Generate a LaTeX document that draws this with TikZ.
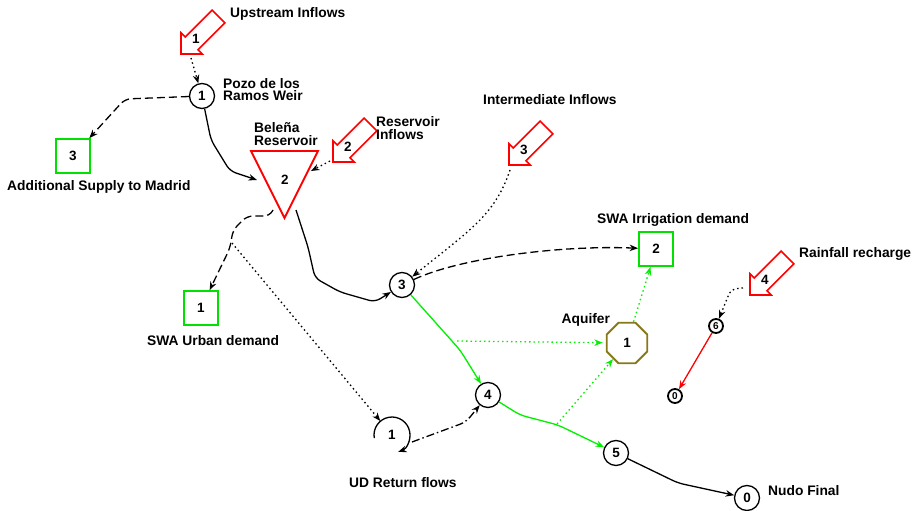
\documentclass[tikz,border=0pt]{standalone}
\usepackage{fontspec}
\setmainfont{Liberation Sans}
\usetikzlibrary{arrows.meta,shapes.geometric,calc}

\definecolor{flowgreen}{RGB}{0,240,0}
\definecolor{boxgreen}{RGB}{0,225,0}
\definecolor{aquiferolive}{RGB}{135,120,25}
\definecolor{inflowred}{RGB}{255,0,0}

\tikzset{
  lbl/.style={font=\fontsize{13.8}{12.6}\selectfont\bfseries, inner sep=0pt, align=left},
  num/.style={font=\fontsize{13.5}{13.5}\selectfont\bfseries},
  junction/.style={circle, draw, line width=1.3pt, minimum size=25pt, inner sep=0pt, num},
  sink/.style={circle, draw, line width=1.8pt, minimum size=14pt, inner sep=0pt,
    font=\fontsize{10}{10}\selectfont\bfseries},
  demand/.style={rectangle, draw=boxgreen, line width=1.8pt, minimum size=34pt, inner sep=0pt, num},
  aquifer/.style={regular polygon, regular polygon sides=8, draw=aquiferolive, line width=1.8pt,
    minimum size=44pt, inner sep=0pt, num},
  inflow/.style={draw=inflowred, line width=1.6pt, line join=miter},
  tipped/.style={-{Stealth[length=8.5pt,width=6.5pt]}},
  conn/.style={line width=1.3pt, tipped, rounded corners=6pt},
  dashedconn/.style={conn, dash pattern=on 8pt off 4pt},
  dottedconn/.style={conn, dash pattern=on 1.5pt off 3pt},
  dashdotconn/.style={conn, dash pattern=on 8pt off 3pt on 1.5pt off 3pt},
  greentip/.style={-{Stealth[length=8.5pt,width=6.5pt,fill=flowgreen]}},
}

% block arrow for an inflow: #1 label node name, #2 tip point, #3 number
\newcommand\inflowarrow[3]{%
  \begin{scope}[shift={#2}, rotate=225]
    \draw[inflow] (0,0) -- (-15,15) -- (-15,9) -- (-53,9) -- (-53,-9) -- (-15,-9) -- (-15,-15) -- cycle;
    \node[num, inner sep=0pt] (#1) at (-21,0) {#3};
  \end{scope}}

\begin{document}
\begin{tikzpicture}[x=1pt,y=-1pt]
\useasboundingbox[fill=white] (0,0) rectangle (914,511);

% junctions and sinks
\node[junction] (n1) at (202,96) {1};
\node[junction] (n3) at (402,285) {3};
\node[junction] (n4) at (488,395) {4};
\node[junction] (n5) at (616,453) {5};
\node[junction] (n0) at (747,498) {0};
\node[sink] (n6) at (716,326) {6};
\node[sink] (s0) at (675,396) {0};

% demands and aquifer
\node[demand] (d3) at (73,156) {3};
\node[demand] (d1) at (201,308) {1};
\node[demand] (d2) at (656,249) {2};
\node[aquifer] (aq) at (627,343) {1};

% reservoir
\draw[draw=red, line width=1.8pt, line join=miter] (251,151) -- (318,151) -- (284.5,218) -- cycle;
\node[num] (res) at (285,180) {2};

% return flow element
\node[num, circle, minimum size=36pt, inner sep=0pt] (ud) at (392,435) {1};
\draw[line width=1.3pt, tipped] ([shift={(190:18pt)}]ud.center) arc[start angle=190, end angle=-70, radius=18pt];

% inflows
\inflowarrow{q1}{(181,54)}{1}
\inflowarrow{q2}{(333,162)}{2}
\inflowarrow{q3}{(509,165)}{3}
\inflowarrow{q4}{(750,295)}{4}

% connector end points on shapes without borders
\coordinate (in1) at (191,58);
\coordinate (in2) at (330,161);
\coordinate (in3) at (510,170);
\coordinate (in4) at (743,288);
\coordinate (resW) at (257,180);
\coordinate (resNE) at (311,171);
\coordinate (resS1) at (273,210);
\coordinate (resS2) at (296,210);
\coordinate (split) at (232,243);
\coordinate (udE) at (412,442);
\coordinate (g1) at (457,341);
\coordinate (g2) at (557,424);

% connectors
\draw[dottedconn] (in1) -- (n1);
\draw[dashedconn] (n1) -- (125,99) -- (d3);
\draw[conn] (n1) -- (211,140) -- (230,171) -- (resW);
\draw[dottedconn] (in2) -- (resNE);
\draw[dashedconn] (resS1) -- (270,216) -- (247,216) -- (233,230) -- (230,248) -- (d1);
\draw[dottedconn] (split) -- (ud);
\draw[conn] (resS2) -- (308,247) -- (315,278) -- (340,292) -- (375,302) -- (n3);
\draw[dottedconn] (in3) .. controls (495,215) and (470,230) .. (n3);
\draw[dashedconn] (n3) .. controls (460,258) and (560,245) .. (d2);
\draw[conn, draw=flowgreen, greentip] (n3) -- (460,350) -- (n4);
\draw[dottedconn, draw=flowgreen, greentip, shorten >=3pt] (g1) -- (aq);
\draw[conn, draw=flowgreen, greentip] (n4) -- (520,415) -- (558,425) -- (n5);
\draw[dottedconn, draw=flowgreen, greentip] (g2) -- (aq);
\draw[dottedconn, draw=flowgreen, greentip] (aq) -- (d2);
\draw[dashdotconn] (udE) -- (466,422) -- (n4);
\draw[conn] (n5) -- (678,483) -- (n0);
\draw[dottedconn] (in4) -- (731,289) -- (n6);
\draw[conn, draw=red, -{Stealth[length=8.5pt,width=6.5pt,fill=red]}] (n6) -- (s0);

% labels (multi-line labels are placed by the baseline of their last line)
\node[lbl, anchor=base west] (tUp) at (230,17.3) {Upstream Inflows};
\node[lbl, anchor=base west] (tPozo) at (223,101) {Pozo de los\\Ramos Weir};
\node[lbl, anchor=base west] (tBel) at (254,145.5) {Beleña\\Reservoir};
\node[lbl, anchor=base west] (tResIn) at (376,139.5) {Reservoir\\Inflows};
\node[lbl, anchor=base west] (tAdd) at (7,190) {Additional Supply to Madrid};
\node[lbl, anchor=base west] (tUrb) at (147,345.7) {SWA Urban demand};
\node[lbl, anchor=base west] (tIrr) at (597,223.5) {SWA Irrigation demand};
\node[lbl, anchor=base west] (tAq) at (561.5,323.5) {Aquifer};
\node[lbl, anchor=base west] (tRain) at (799,257) {Rainfall recharge};
\node[lbl, anchor=base west] (tInt) at (483,105) {Intermediate Inflows};
\node[lbl, anchor=base west] (tUD) at (349,487) {UD Return flows};
\node[lbl, anchor=base west] (tNudo) at (768,495) {Nudo Final};
\end{tikzpicture}
\end{document}
